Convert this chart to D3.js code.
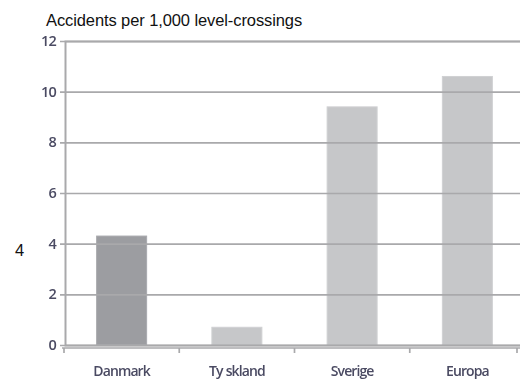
<!DOCTYPE html>
<html>
<head>
<meta charset="utf-8">
<script src="https://cdn.jsdelivr.net/npm/d3@7"></script>
<style>
  html, body { margin: 0; padding: 0; background: #fff; }
  svg { display: block; }
</style>
</head>
<body>
<svg id="chart" width="520" height="379"></svg>
<script>
// Accident rate per 1,000 level crossings, by country/region
const categories = ["Danmark", "Tyskland", "Sverige", "Europa"];
const values = [4.3, 0.7, 9.4, 10.6];
const yTicks = [0, 2, 4, 6, 8, 10, 12];
const titleText = "Accidents per 1,000 level-crossings";
const sideNote = "4";

const W = 520;
const svg = d3.select("#chart");

const x = d3.scaleBand()
  .domain(categories)
  .range([64, 525])
  .paddingInner(0)
  .paddingOuter(0);

const y = d3.scaleLinear()
  .domain([0, 12])
  .range([345, 41]);

const barW = 50;
const barColor = (d, i) => i === 0 ? "#9c9da1" : "#c6c7c9";
const gridColor = "#a9a9ab";
const labelColor = "#4a4a62";
const labelFont = "'Open Sans', 'DejaVu Sans', sans-serif";

// bars
svg.append("g")
  .selectAll("rect")
  .data(values)
  .join("rect")
  .attr("x", (d, i) => x(categories[i]) + x.bandwidth() / 2 - barW / 2)
  .attr("y", d => y(d))
  .attr("width", barW)
  .attr("height", d => y(0) - y(d))
  .attr("fill", barColor)
  .attr("stroke", (d, i) => i === 0 ? "#a9aaae" : "#d0d1d3")
  .attr("stroke-width", 1);

// horizontal gridlines drawn over the bars
const yAxis = d3.axisLeft(y)
  .tickValues(yTicks)
  .tickSize(-(W - 65))
  .tickPadding(9)
  .tickFormat(d3.format("d"));

const gy = svg.append("g")
  .attr("transform", "translate(65,0)")
  .call(yAxis);
gy.select(".domain").attr("stroke", gridColor).attr("stroke-width", 2);
gy.selectAll(".tick line")
  .attr("stroke", gridColor)
  .attr("stroke-width", 1.7)
  .attr("x1", -5);
gy.selectAll(".tick text")
  .attr("fill", labelColor)
  .attr("font-family", labelFont)
  .attr("font-size", 14.5)
  .attr("font-weight", 600)
  .attr("letter-spacing", -0.8)
  .attr("dy", "0.3em")
  .style("filter", "blur(0.45px)");

// x axis: baseline with tick marks between categories
const gx = svg.append("g").attr("transform", "translate(0,348)");
gx.append("line")
  .attr("x1", 62).attr("x2", W)
  .attr("stroke", gridColor).attr("stroke-width", 1.7);
const bounds = categories.map(c => x(c)).concat([x.range()[1] - 8]);
gx.selectAll("line.tk")
  .data(bounds)
  .join("line")
  .attr("class", "tk")
  .attr("x1", d => d).attr("x2", d => d)
  .attr("y1", 0).attr("y2", 5)
  .attr("stroke", gridColor).attr("stroke-width", 1.7);

const xl = gx.selectAll("text")
  .data(categories)
  .join("text")
  .attr("x", d => x(d) + x.bandwidth() / 2)
  .attr("y", 27.5)
  .attr("text-anchor", "middle")
  .attr("fill", labelColor)
  .attr("font-family", labelFont)
  .attr("font-size", 14)
  .attr("font-weight", 600)
  .attr("letter-spacing", -0.9)
  .style("filter", "blur(0.45px)");
// "Tyskland" is set with a loose gap after "Ty"
xl.each(function(d) {
  const t = d3.select(this);
  if (d === "Tyskland") {
    t.append("tspan").text("Ty");
    t.append("tspan").attr("dx", 3).text("skland");
  } else {
    t.text(d);
  }
});

// title
svg.append("text")
  .attr("x", 46)
  .attr("y", 26)
  .attr("fill", "#111")
  .attr("font-family", "'Liberation Sans', Arial, sans-serif")
  .attr("font-size", 16.5)
  .attr("letter-spacing", -0.1)
  .text(titleText);

// stray side label
svg.append("text")
  .attr("x", 15)
  .attr("y", 256)
  .attr("fill", "#111")
  .attr("font-family", "'Liberation Sans', Arial, sans-serif")
  .attr("font-size", 16.5)
  .text(sideNote);
</script>
</body>
</html>
